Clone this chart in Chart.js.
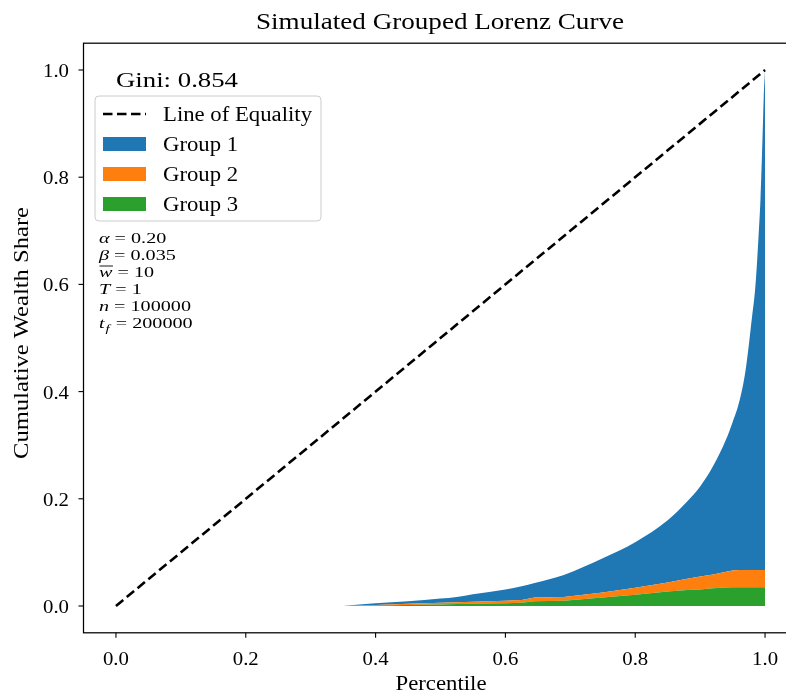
<!DOCTYPE html>
<html>
<head>
<meta charset="utf-8">
<title>Simulated Grouped Lorenz Curve</title>
<script src="https://cdn.jsdelivr.net/npm/chart.js@4.4.1/dist/chart.umd.min.js"></script>
<style>
  html, body { margin: 0; padding: 0; background: #ffffff; overflow: hidden; }
  #wrap { width: 786px; height: 694px; overflow: hidden; }
  canvas { display: block; }
</style>
</head>
<body>
<div id="wrap"><canvas id="lorenz" width="800" height="694"></canvas></div>
<script>
// Population percentile (sorted by wealth) at each sample point
const percentile = [0.35, 0.40, 0.45, 0.50, 0.525, 0.55, 0.60, 0.625, 0.645, 0.69,
  0.75, 0.80, 0.85, 0.88, 0.90, 0.92, 0.94, 0.95, 0.96, 0.97,
  0.98, 0.985, 0.99, 0.993, 0.995, 0.997, 0.998, 1.0];

// Share of total wealth held by each group up to that percentile
const group3Share = [0, 0.001, 0.002, 0.003, 0.0035, 0.004, 0.005, 0.006, 0.009, 0.010,
  0.016, 0.021, 0.027, 0.030, 0.031, 0.033, 0.0345, 0.035, 0.035, 0.035,
  0.035, 0.035, 0.035, 0.035, 0.035, 0.035, 0.035, 0.035];
const group2Share = [0, 0.001, 0.002, 0.003, 0.0035, 0.004, 0.005, 0.005, 0.007, 0.007,
  0.009, 0.013, 0.017, 0.021, 0.024, 0.026, 0.0295, 0.031, 0.032, 0.032,
  0.032, 0.032, 0.032, 0.032, 0.032, 0.032, 0.032, 0.032];
const group1Share = [0, 0.003, 0.005, 0.008, 0.010, 0.014, 0.021, 0.026, 0.027, 0.041,
  0.064, 0.085, 0.116, 0.144, 0.168, 0.202, 0.247, 0.277, 0.313, 0.373,
  0.473, 0.528, 0.623, 0.693, 0.763, 0.843, 0.883, 0.933];

// Perfect-equality reference line
const equalityX = [0, 1];
const equalityY = [0, 1];

const xTicks = [0.0, 0.2, 0.4, 0.6, 0.8, 1.0];
const yTicks = [0.0, 0.2, 0.4, 0.6, 0.8, 1.0];

const seriesLabels = ['Line of Equality', 'Group 1', 'Group 2', 'Group 3'];
const giniValue = 0.854;

// Simulation parameters listed under the legend: [symbol, value]
const paramRows = [
  ['alpha', '0.20'],
  ['beta', '0.035'],
  ['wbar', '10'],
  ['T', '1'],
  ['n', '100000'],
  ['tf', '200000']
];

const COLORS = { g1: '#1f77b4', g2: '#ff7f0e', g3: '#2ca02c' };
const SERIF = '"Liberation Serif", "DejaVu Serif", serif';

// Stack the group shares so each band sits on the one below it
const top3 = group3Share.slice();
const top2 = top3.map((v, i) => v + group2Share[i]);
const top1 = top2.map((v, i) => v + group1Share[i]);
const pts = ys => percentile.map((x, i) => ({ x: x, y: ys[i] }));

const areaStyle = (label, color, fill, ys) => ({
  label: label,
  data: pts(ys),
  fill: fill,
  backgroundColor: color,
  borderColor: 'rgba(0,0,0,0)',
  borderWidth: 0,
  pointRadius: 0,
  tension: 0
});

const dsEq = {
  label: seriesLabels[0],
  data: equalityX.map((x, i) => ({ x: x, y: equalityY[i] })),
  borderColor: '#000000',
  borderWidth: 2.6,
  borderDash: [9.5, 4.5],
  pointRadius: 0,
  fill: false,
  tension: 0
};
const ds3 = areaStyle(seriesLabels[3], COLORS.g3, 'origin', top3);
const ds2 = areaStyle(seriesLabels[2], COLORS.g2, '-1', top2);
const ds1 = areaStyle(seriesLabels[1], COLORS.g1, '-1', top1);
// the top group's curve bends smoothly towards the richest percentile
ds1.cubicInterpolationMode = 'monotone';

// Draw text widened horizontally by a factor (the serif face is narrower than the design)
function wideText(ctx, text, x, y, font, sx, align) {
  ctx.save();
  ctx.font = font;
  const w = ctx.measureText(text).width * sx;
  let left = x;
  if (align === 'center') left = x - w / 2;
  else if (align === 'right') left = x - w;
  ctx.translate(left, y);
  ctx.scale(sx, 1);
  ctx.textAlign = 'left';
  ctx.fillText(text, 0, 0);
  ctx.restore();
  return w;
}
function fitFactor(ctx, text, font, width) {
  ctx.save();
  ctx.font = font;
  const f = width / ctx.measureText(text).width;
  ctx.restore();
  return f;
}

// Frame, ticks, title, axis titles, Gini label, legend and parameter block
const decorations = {
  id: 'decorations',
  afterDraw(chart) {
    const ctx = chart.ctx;
    const a = chart.chartArea;
    const xs = chart.scales.x, ys = chart.scales.y;
    ctx.save();
    ctx.fillStyle = '#000';
    ctx.textBaseline = 'alphabetic';

    // axes frame
    ctx.strokeStyle = '#000';
    ctx.lineWidth = 1.25;
    ctx.strokeRect(a.left, a.top, a.right - a.left, a.bottom - a.top);

    // ticks and tick labels
    const tf = '19px ' + SERIF;
    const tsx = fitFactor(ctx, '1.0', tf, 26);
    ctx.lineWidth = 1.1;
    xTicks.forEach(v => {
      const px = xs.getPixelForValue(v);
      ctx.beginPath();
      ctx.moveTo(px, a.bottom);
      ctx.lineTo(px, a.bottom + 5);
      ctx.stroke();
      wideText(ctx, v.toFixed(1), px, 665, tf, tsx, 'center');
    });
    yTicks.forEach(v => {
      const py = ys.getPixelForValue(v);
      ctx.beginPath();
      ctx.moveTo(a.left, py);
      ctx.lineTo(a.left - 5, py);
      ctx.stroke();
      wideText(ctx, v.toFixed(1), 69, py + 7, tf, tsx, 'right');
    });

    // title and axis titles
    const titleFont = '24px ' + SERIF;
    wideText(ctx, 'Simulated Grouped Lorenz Curve', 440, 29, titleFont,
      fitFactor(ctx, 'Simulated Grouped Lorenz Curve', titleFont, 368), 'center');
    const axFont = '20px ' + SERIF;
    wideText(ctx, 'Percentile', 441, 690, axFont, fitFactor(ctx, 'Percentile', axFont, 91), 'center');
    ctx.save();
    ctx.translate(28, 333);
    ctx.rotate(-Math.PI / 2);
    wideText(ctx, 'Cumulative Wealth Share', 0, 0, axFont,
      fitFactor(ctx, 'Cumulative Wealth Share', axFont, 252), 'center');
    ctx.restore();

    // Gini coefficient
    const giniText = 'Gini: ' + giniValue.toFixed(3);
    const gFont = '22px ' + SERIF;
    wideText(ctx, giniText, 116, 87, gFont, fitFactor(ctx, giniText, gFont, 122), 'left');

    // legend box
    const lx = 95, ly = 96, lw = 226, lh = 125, r = 4;
    ctx.beginPath();
    ctx.moveTo(lx + r, ly);
    ctx.arcTo(lx + lw, ly, lx + lw, ly + lh, r);
    ctx.arcTo(lx + lw, ly + lh, lx, ly + lh, r);
    ctx.arcTo(lx, ly + lh, lx, ly, r);
    ctx.arcTo(lx, ly, lx + lw, ly, r);
    ctx.closePath();
    ctx.fillStyle = 'rgba(255,255,255,0.8)';
    ctx.fill();
    ctx.strokeStyle = '#cccccc';
    ctx.lineWidth = 1;
    ctx.stroke();

    const rows = [
      { ds: chart.data.datasets[0], y: 114, line: true },
      { ds: chart.data.datasets[3], y: 144 },
      { ds: chart.data.datasets[2], y: 174 },
      { ds: chart.data.datasets[1], y: 204 }
    ];
    const legFont = '20px ' + SERIF;
    const lsx = fitFactor(ctx, seriesLabels[0], legFont, 149);
    rows.forEach(row => {
      if (row.line) {
        ctx.strokeStyle = '#000';
        ctx.lineWidth = 2.6;
        ctx.setLineDash([9.5, 4.5]);
        ctx.beginPath();
        ctx.moveTo(103, row.y);
        ctx.lineTo(146, row.y);
        ctx.stroke();
        ctx.setLineDash([]);
      } else {
        ctx.fillStyle = row.ds.backgroundColor;
        ctx.fillRect(103, row.y - 7, 43, 14);
      }
      ctx.fillStyle = '#000';
      wideText(ctx, row.ds.label, 163, row.y + 7, legFont, lsx, 'left');
    });

    // parameter block
    const pf = '15px ' + SERIF;
    const pfi = 'italic 15px ' + SERIF;
    const psx = fitFactor(ctx, 'n = 100000', pf, 92);
    const symbols = { alpha: 'α', beta: 'β', wbar: 'w', T: 'T', n: 'n', tf: 't' };
    paramRows.forEach((p, i) => {
      const y = 243 + i * 17;
      let x = 99;
      const sym = symbols[p[0]];
      const sw = wideText(ctx, sym, x, y, pfi, psx, 'left');
      if (p[0] === 'wbar') {
        ctx.lineWidth = 0.9;
        ctx.strokeStyle = '#000';
        ctx.beginPath();
        ctx.moveTo(x + 0.5, y - 11);
        ctx.lineTo(x + sw + 0.5, y - 11);
        ctx.stroke();
      }
      x += sw;
      if (p[0] === 'tf') {
        x += wideText(ctx, 'f', x + 1, y + 4, 'italic 11px ' + SERIF, psx, 'left') + 2;
      }
      wideText(ctx, ' = ' + p[1], x, y, pf, psx, 'left');
    });

    ctx.restore();
  }
};

new Chart(document.getElementById('lorenz'), {
  type: 'line',
  data: { datasets: [dsEq, ds3, ds2, ds1] },
  options: {
    responsive: false,
    animation: false,
    events: [],
    layout: { padding: { top: 43.2, right: 2.5, left: 0, bottom: 0 } },
    plugins: {
      legend: { display: false },
      tooltip: { enabled: false },
      title: { display: false },
      filler: { propagate: false }
    },
    scales: {
      x: {
        type: 'linear',
        min: -0.05,
        max: 1.05,
        afterBuildTicks: s => { s.ticks = xTicks.map(v => ({ value: v })); },
        afterFit: s => { s.height = 61.2; },
        ticks: { display: false },
        grid: { display: false },
        border: { display: false }
      },
      y: {
        type: 'linear',
        min: -0.05,
        max: 1.05,
        afterBuildTicks: s => { s.ticks = yTicks.map(v => ({ value: v })); },
        afterFit: s => { s.width = 83.5; },
        ticks: { display: false },
        grid: { display: false },
        border: { display: false }
      }
    }
  },
  plugins: [decorations]
});
</script>
</body>
</html>
